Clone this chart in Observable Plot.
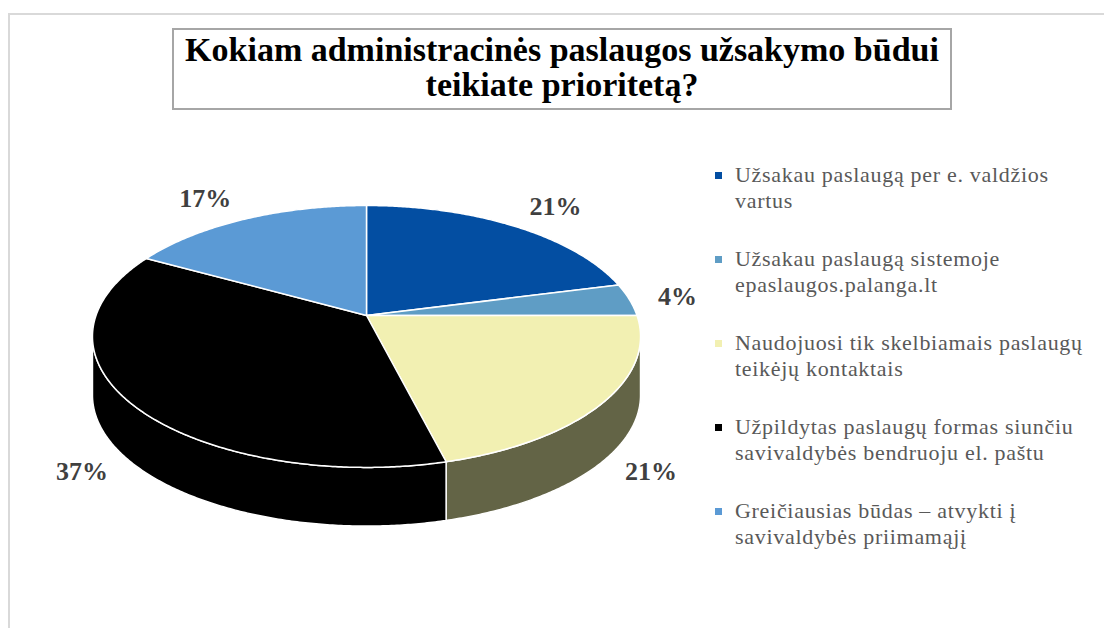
<!DOCTYPE html>
<html><head><meta charset="utf-8">
<script src="https://cdn.jsdelivr.net/npm/d3@7"></script>
<script src="https://cdn.jsdelivr.net/npm/@observablehq/plot@0.6"></script>
<style>
html,body{margin:0;padding:0;background:#fff;}
#wrap{position:relative;width:1104px;height:628px;overflow:hidden;background:#fff;}
#frame{position:absolute;left:8px;top:13px;width:1200px;height:700px;border:2px solid #d9d9d9;}
#title{position:absolute;left:172px;top:28px;width:780px;height:82px;box-sizing:border-box;border:2.5px solid #a6a6a6;font-family:"Liberation Serif","DejaVu Serif",serif;font-weight:bold;font-size:34px;line-height:35px;text-align:center;padding-top:2px;color:#000;}
#chart{position:absolute;left:0;top:0;}
#legend{position:absolute;left:712px;top:162px;font-family:"Liberation Serif","DejaVu Serif",serif;font-size:22px;line-height:25.5px;color:#595959;letter-spacing:0.7px;}
.item{position:relative;height:84px;padding-left:23px;white-space:pre-line;}
.sw{position:absolute;left:3px;top:9.5px;width:7px;height:7px;}
</style></head>
<body>
<div id="wrap">
  <div id="frame"></div>
  <div id="chart"></div>
  <div id="title"></div>
  <div id="legend"></div>
</div>
<script>
// ---- data ----
const titleLines = ["Kokiam administracinės paslaugos užsakymo būdui", "teikiate prioritetą?"];
const categories = [
  "Užsakau paslaugą per e. valdžios\nvartus",
  "Užsakau paslaugą sistemoje\nepaslaugos.palanga.lt",
  "Naudojuosi tik skelbiamais paslaugų\nteikėjų kontaktais",
  "Užpildytas paslaugų formas siunčiu\nsavivaldybės bendruoju el. paštu",
  "Greičiausias būdas – atvykti į\nsavivaldybės priimamąjį"
];
const shares = [21, 4, 21, 37, 17];
const shareLabels = ["21%", "4%", "21%", "37%", "17%"];
const colors = ["#034ea2", "#5f9dc5", "#f2f0b2", "#000000", "#5b9ad5"];
const sideColors = ["#02386f", "#3f6d8a", "#636446", "#000000", "#3e6c96"];

// ---- geometry (tilted disk with perspective) ----
const K = 0.16, DEPTH = 0.46, XPX = 270.5, YPX = 127.6;
function proj(theta, r = 1) {
  const c = r * Math.sin(theta), s = -r * Math.cos(theta);
  const d = 1 - K * s;
  return {x: c / d, y: s / d, s};
}
const arcs = d3.pie().sort(null).startAngle(0).endAngle(2 * Math.PI)(shares);
const STEP = Math.PI / 360;
function arcPts(a0, a1) {
  const n = Math.max(2, Math.ceil((a1 - a0) / STEP));
  const out = [];
  for (let i = 0; i <= n; i++) out.push(proj(a0 + (a1 - a0) * i / n));
  return out;
}
const tops = [], sides = [], labels = [];
const tLo = Math.acos(-K), tHi = 2 * Math.PI - tLo;
arcs.forEach((a, i) => {
  const key = "s" + i;
  tops.push({x: 0, y: 0, key, fill: colors[i]});
  arcPts(a.startAngle, a.endAngle).forEach(p => tops.push({x: p.x, y: p.y, key, fill: colors[i]}));
  const lo = Math.max(a.startAngle, tLo), hi = Math.min(a.endAngle, tHi);
  if (lo < hi) {
    const top = arcPts(lo, hi);
    top.forEach(p => sides.push({x: p.x, y: p.y, key, fill: sideColors[i]}));
    top.slice().reverse().forEach(p => sides.push({x: p.x, y: p.y + DEPTH, key, fill: sideColors[i]}));
  }
  const mid = (a.startAngle + a.endAngle) / 2;
  const p = proj(mid, 1.1);
  const sn = Math.sin(mid), cs = Math.cos(mid);
  const dxPx = Math.sign(sn) * (21 + 10 * Math.max(0, cs));
  const dyPx = -14 * cs + (p.s > 0 ? 0.87 * DEPTH * YPX : 0);
  labels.push({x: p.x + dxPx / XPX, y: p.y + dyPx / YPX, text: shareLabels[i]});
});

const CX = 366, CY = 315;
const chart = Plot.plot({
  width: 710, height: 628,
  marginTop: 0, marginBottom: 0, marginLeft: 0, marginRight: 0,
  style: {background: "transparent", overflow: "visible"},
  x: {domain: [-1, 1], range: [CX - XPX, CX + XPX], axis: null},
  y: {domain: [-1, 1], range: [CY - YPX, CY + YPX], axis: null},
  color: {type: "identity"},
  marks: [
    Plot.line(sides, {x: "x", y: "y", z: "key", fill: "fill", stroke: "white", strokeWidth: 1.5, curve: "linear-closed"}),
    Plot.line(tops, {x: "x", y: "y", z: "key", fill: "fill", stroke: "white", strokeWidth: 1.5, curve: "linear-closed"}),
    Plot.text(labels, {x: "x", y: "y", text: "text", fontSize: 26, fontWeight: "bold", fill: "#404040", fontFamily: "'Liberation Serif','DejaVu Serif',serif"})
  ]
});
document.getElementById("chart").appendChild(chart);

const t = document.getElementById("title");
titleLines.forEach((l, i) => { if (i) t.appendChild(document.createElement("br")); t.appendChild(document.createTextNode(l)); });

const lg = document.getElementById("legend");
categories.forEach((c, i) => {
  const it = document.createElement("div"); it.className = "item";
  const sw = document.createElement("div"); sw.className = "sw"; sw.style.background = colors[i];
  it.appendChild(sw);
  it.appendChild(document.createTextNode(c));
  lg.appendChild(it);
});
</script>
</body></html>
